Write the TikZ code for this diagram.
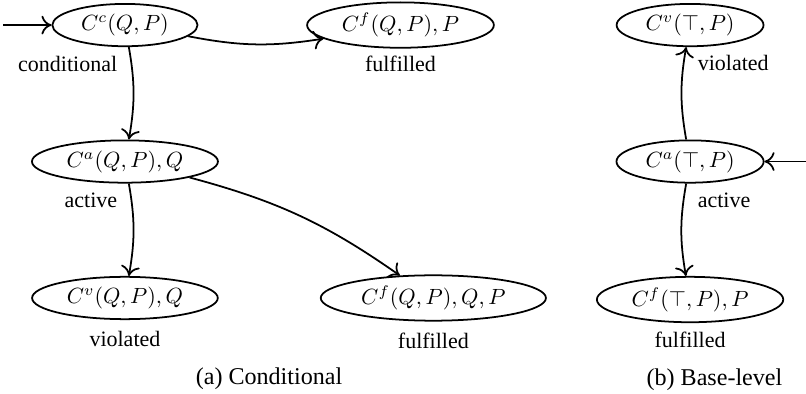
\documentclass[tikz,border=0pt]{standalone}
\usepackage[no-math]{fontspec}
\setmainfont{Liberation Serif}
\usetikzlibrary{arrows.meta,calc,positioning,shapes.geometric}

\begin{document}
\begin{tikzpicture}[
    node distance=42pt and 49pt,
    state/.style={draw, thick, ellipse, inner xsep=3.4pt, inner ysep=1.8pt},
    tag/.style={inner sep=3.33pt},
    caption/.style={inner sep=2pt, font=\fontsize{10.95}{13.6}\selectfont},
    arrow/.style={-{To[length=1.6mm,width=3mm]}, thick}
  ]
  \useasboundingbox (-56.8pt,11.4pt) rectangle (309.6pt,-167.7pt);

  % (a) conditional commitment
  \node[state] (cond) {$C^c(Q, P)$};
  \node[state, below=of cond] (act) {$C^a(Q, P), Q$};
  \node[state, below=of act] (viol) {$C^v(Q, P), Q$};
  \node[state, right=of cond] (fulf) {$C^f(Q, P), P$};
  \node[state, right=46pt of viol] (fulfq) {$C^f(Q, P), Q, P$};
  \coordinate[left=22pt of cond] (condin);

  \node[tag, below left=0.5pt and 0pt of cond.south] (condtag) {conditional};
  \node[tag, below left=0.5pt and 0pt of act.south] (acttag) {active};
  \node[tag, below=1.5pt of viol] (violtag) {violated};
  \node[tag, below=0pt of fulf] (fulftag) {fulfilled};
  \node[tag, below=1.5pt of fulfq] (fulfqtag) {fulfilled};

  \draw[arrow] (condin) -- (cond);
  \draw[arrow] (cond) to[bend right=10] (fulf);
  \draw[arrow] (cond) to[bend left=10] (act);
  \draw[arrow] (act) to[bend left=10] (viol);
  \draw[arrow] (act) to[bend left=10] (fulfq);

  % (b) base-level commitment
  \node[state, right=55pt of fulf] (bviol) {$C^v(\top, P)$};
  \node[state, below=of bviol] (bact) {$C^a(\top, P)$};
  \node[state, below=of bact] (bfulf) {$C^f(\top, P), P$};
  \coordinate[right=21.4pt of bact] (bactin);

  \node[tag, below right=0pt and 0pt of bviol.south] (bvioltag) {violated};
  \node[tag, below right=0.5pt and 0pt of bact.south] (bacttag) {active};
  \node[tag, below=0.5pt of bfulf] (bfulftag) {fulfilled};

  \draw[arrow] (bactin) -- (bact);
  \draw[arrow] (bact) to[bend left=10] (bviol);
  \draw[arrow] (bact) to[bend right=10] (bfulf);

  % captions
  \node[caption] (capa) at ($(viol)+(65.5pt,-36.6pt)$) {(a) Conditional};
  \node[caption] (capb) at ($(bfulf)+(11.1pt,-36.6pt)$) {(b) Base-level};
\end{tikzpicture}
\end{document}
